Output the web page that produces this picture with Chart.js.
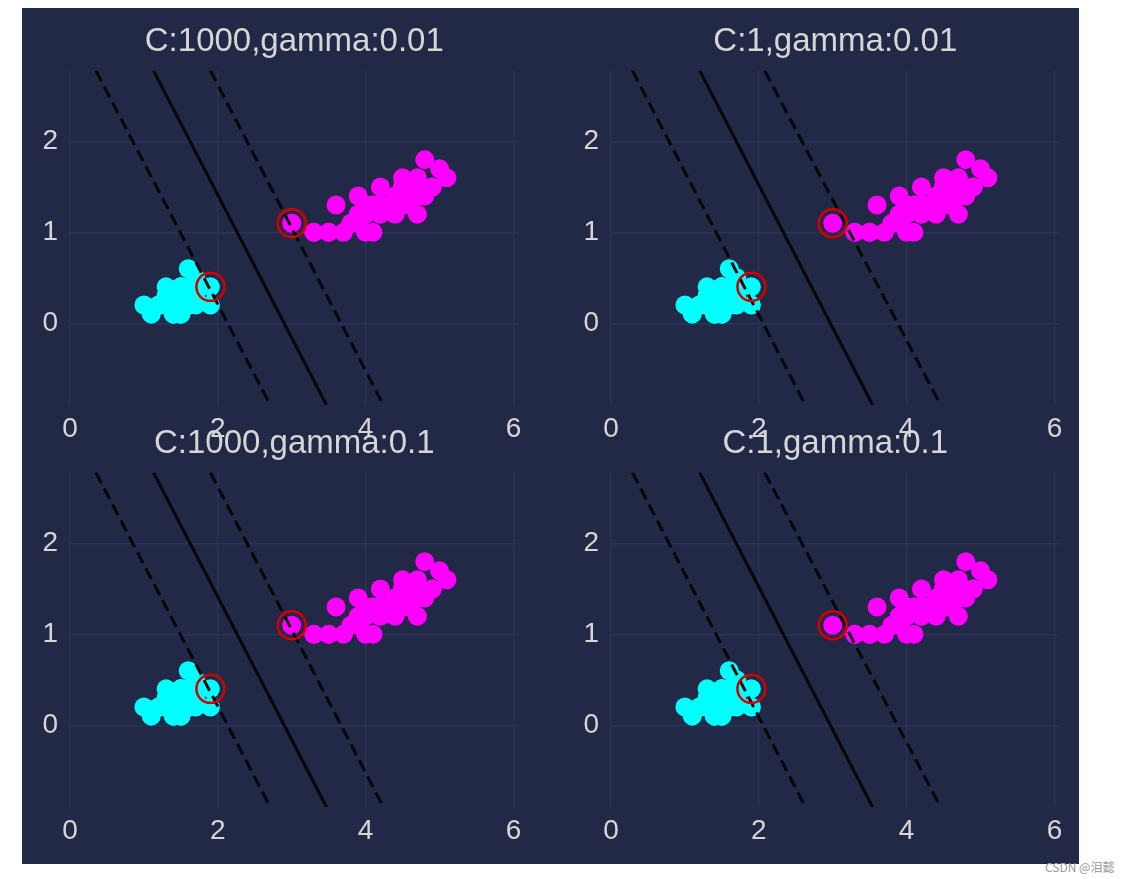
<!DOCTYPE html>
<html>
<head>
<meta charset="utf-8">
<script src="https://cdn.jsdelivr.net/npm/chart.js@4.4.0/dist/chart.umd.min.js"></script>
<style>
  html, body { margin: 0; padding: 0; background: #fff; overflow: hidden; }
  #panel { position: absolute; left: 22px; top: 8px; width: 1057px; height: 856px; background: #212946; }
  canvas { position: absolute; }
  #mark { position: absolute; left: 1045px; top: 858px; font: 12px 'Noto Sans CJK SC', sans-serif; color: #9a9a9a; white-space: nowrap; }
</style>
</head>
<body>
<div id="panel"></div>
<canvas id="c0" width="590" height="450" style="left:0px;top:0px"></canvas>
<canvas id="c1" width="590" height="450" style="left:540.5px;top:0px"></canvas>
<canvas id="c2" width="590" height="450" style="left:0px;top:401.5px"></canvas>
<canvas id="c3" width="590" height="450" style="left:540.5px;top:401.5px"></canvas>
<div id="mark">CSDN @泪懿</div>
<script>
// cyan class (x, y)
const cyanX = [1.4,1.4,1.3,1.5,1.4,1.7,1.4,1.5,1.4,1.5,1.5,1.6,1.4,1.1,1.2,1.5,1.3,1.4,1.7,1.5,1.7,1.5,1.0,1.7,1.9,1.6,1.6,1.5,1.4,1.6,1.6,1.5,1.5,1.4,1.5,1.2,1.3,1.4,1.3,1.5,1.3,1.3,1.3,1.6,1.9,1.6,1.4,1.6,1.4,1.5];
const cyanY = [0.2,0.2,0.2,0.2,0.2,0.4,0.3,0.2,0.2,0.1,0.2,0.2,0.1,0.1,0.2,0.4,0.4,0.3,0.3,0.3,0.2,0.4,0.2,0.5,0.2,0.2,0.4,0.2,0.2,0.2,0.2,0.4,0.1,0.2,0.2,0.2,0.2,0.1,0.2,0.2,0.3,0.3,0.2,0.6,0.4,0.3,0.3,0.2,0.2,0.2];
// magenta class (x, y)
const magentaX = [4.7,4.5,4.9,4.0,4.6,4.5,4.7,3.3,4.6,3.9,3.5,4.2,4.0,4.7,3.6,4.4,4.5,4.1,4.5,3.9,4.8,4.0,4.9,4.7,4.3,4.4,4.8,5.0,4.5,3.5,3.8,3.7,3.9,5.1,4.5,4.5,4.7,4.4,4.1,4.0,4.4,4.6,4.0,3.3,4.2,4.2,4.2,4.3,3.0,4.1];
const magentaY = [1.4,1.5,1.5,1.3,1.5,1.3,1.6,1.0,1.3,1.4,1.0,1.5,1.0,1.4,1.3,1.4,1.5,1.0,1.5,1.1,1.8,1.3,1.5,1.2,1.3,1.4,1.4,1.7,1.5,1.0,1.1,1.0,1.2,1.6,1.5,1.6,1.5,1.3,1.3,1.3,1.2,1.4,1.2,1.0,1.3,1.2,1.3,1.3,1.1,1.3];
// support vectors (red rings)
const supportX = [1.9, 3.0];
const supportY = [0.4, 1.1];

// boundary lines: x values at the top and bottom of the plot
const lineYs = [2.78, -0.9];
const c1000Lower = [0.35, 2.71];
const c1000Mid = [1.13, 3.47];
const c1000Upper = [1.90, 4.24];
const c1Lower = [0.29, 2.63];
const c1Mid = [1.20, 3.54];
const c1Upper = [2.08, 4.46];

const xTicks = [0, 2, 4, 6];
const yTicks = [0, 1, 2];

const panelTitles = ['C:1000,gamma:0.01', 'C:1,gamma:0.01', 'C:1000,gamma:0.1', 'C:1,gamma:0.1'];
const panelLower = [c1000Lower, c1Lower, c1000Lower, c1Lower];
const panelMid = [c1000Mid, c1Mid, c1000Mid, c1Mid];
const panelUpper = [c1000Upper, c1Upper, c1000Upper, c1Upper];

const textColor = '#d6d6d6';
const gridColor = '#2A3459';
Chart.defaults.font.family = "'Liberation Sans', Arial, sans-serif";

function points(xs, ys) {
    return xs.map((x, i) => ({ x: x, y: ys[i] }));
}

function boundary(xs, dashed) {
    return {
        data: points(xs, lineYs),
        showLine: true,
        pointRadius: 0,
        borderColor: '#05060a',
        borderWidth: 3,
        borderDash: dashed ? [12, 6] : [],
        order: 1
    };
}

panelTitles.forEach((title, i) => {
    const ctx = document.getElementById('c' + i).getContext('2d');
    new Chart(ctx, {
        type: 'scatter',
        data: {
            datasets: [
                {
                    data: points(supportX, supportY),
                    pointRadius: 14,
                    backgroundColor: 'rgba(0,0,0,0)',
                    borderColor: '#d40000',
                    borderWidth: 2.5,
                    order: 0
                },
                boundary(panelLower[i], true),
                boundary(panelMid[i], false),
                boundary(panelUpper[i], true),
                {
                    data: points(magentaX, magentaY),
                    pointRadius: 9.5,
                    backgroundColor: '#ff00ff',
                    borderWidth: 0,
                    order: 2
                },
                {
                    data: points(cyanX, cyanY),
                    pointRadius: 9.5,
                    backgroundColor: '#00ffff',
                    borderWidth: 0,
                    order: 3
                }
            ]
        },
        options: {
            responsive: false,
            animation: false,
            devicePixelRatio: 1,
            layout: { padding: { left: 0, right: 1.4, top: 0, bottom: 0 } },
            plugins: {
                legend: { display: false },
                tooltip: { enabled: false },
                title: {
                    display: true,
                    text: title,
                    color: textColor,
                    font: { size: 33, weight: 'normal' },
                    padding: { top: 22, bottom: 9 }
                }
            },
            scales: {
                x: {
                    type: 'linear',
                    min: 0,
                    max: 6.07,
                    grid: { color: gridColor, lineWidth: 1.4, drawTicks: false },
                    border: { display: false },
                    ticks: { color: textColor, font: { size: 28 }, padding: 7, maxRotation: 0 },
                    afterBuildTicks: s => { s.ticks = xTicks.map(v => ({ value: v })); },
                    afterFit: s => { s.height = 45; }
                },
                y: {
                    type: 'linear',
                    min: -0.9,
                    max: 2.78,
                    grid: { color: gridColor, lineWidth: 1.4, drawTicks: false },
                    border: { display: false },
                    ticks: { color: textColor, font: { size: 28 }, padding: 12 },
                    afterBuildTicks: s => { s.ticks = yTicks.map(v => ({ value: v })); },
                    afterFit: s => { s.width = 70; }
                },
                // empty right axis so the title centres over the plot area
                y2: {
                    type: 'linear',
                    position: 'right',
                    grid: { display: false, drawTicks: false },
                    border: { display: false },
                    ticks: { display: false },
                    afterFit: s => { s.width = 70; }
                }
            }
        }
    });
});
</script>
</body>
</html>
